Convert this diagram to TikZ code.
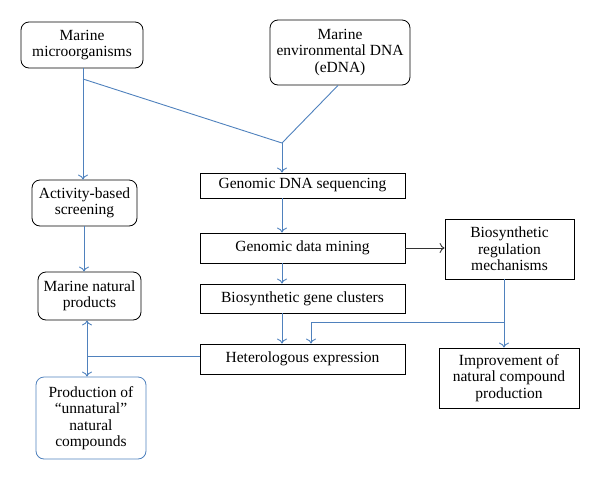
\documentclass[tikz,border=0pt]{standalone}
\usepackage{fontspec}
\setmainfont{Liberation Serif}
\usetikzlibrary{arrows.meta}
\definecolor{lblue}{HTML}{4F81BD}
\begin{document}
\begin{tikzpicture}[x=1pt,y=-1pt,
  font=\fontsize{15.5}{16.5}\selectfont,
  box/.style={draw=black,line width=0.8pt,align=center,inner sep=0pt,anchor=center},
  rbox/.style={box,rounded corners=8pt},
  conn/.style={draw=lblue,line width=0.9pt},
  arr/.style={conn,-{To[length=5pt,width=10pt,open]}},
  barr/.style={draw=black!80,line width=0.9pt,-{To[length=5pt,width=10pt,open]}}]
\useasboundingbox (0,0) rectangle (600,480);
\node[rbox,minimum width=122pt,minimum height=46pt] (mm) at (82,45) {Marine\\microorganisms};
\node[rbox,minimum width=140pt,minimum height=65pt] (edna) at (340,52.5) {Marine\\environmental DNA\\(eDNA)};
\node[rbox,minimum width=105pt,minimum height=46pt] (abs) at (84.5,203) {Activity-based\\screening};
\node[box,minimum width=205pt,minimum height=25pt] (gds) at (302.5,185.5) {Genomic DNA sequencing};
\node[box,minimum width=205pt,minimum height=30pt] (gdm) at (302.5,248) {Genomic data mining};
\node[box,minimum width=205pt,minimum height=29pt] (bgc) at (302.5,298.5) {Biosynthetic gene clusters};
\node[box,minimum width=205pt,minimum height=30pt] (he) at (302.5,359) {Heterologous expression};
\node[box,minimum width=129pt,minimum height=60pt] (brm) at (509.5,249) {Biosynthetic\\regulation\\mechanisms};
\node[rbox,minimum width=103pt,minimum height=48pt] (mnp) at (89.5,296) {Marine natural\\products};
\node[rbox,draw=lblue,minimum width=110pt,minimum height=82pt] (punc) at (91,418) {Production of\\``unnatural''\\natural\\compounds};
\node[box,minimum width=140pt,minimum height=60pt] (incp) at (509,378) {Improvement of\\natural compound\\production};
\coordinate (j1) at (83,79);
\coordinate (j2) at (282,143);
\coordinate (j3) at (504,322);
\coordinate (j4) at (87,356);
\coordinate (j5) at (311,322);
\coordinate (xe) at (338,0);
\coordinate (xa) at (84,0);
\draw[arr] (mm.south -| j1) -- (abs.north -| j1);
\draw[conn] (j1) -- (j2);
\draw[conn] (edna.south -| xe) -- (j2);
\draw[arr] (j2) -- (gds.north -| j2);
\draw[arr] (gds.south -| j2) -- (gdm.north -| j2);
\draw[arr] (gdm.south -| j2) -- (bgc.north -| j2);
\draw[arr] (bgc.south -| j2) -- (he.north -| j2);
\draw[barr] (gdm.east) -- (brm.west |- gdm.east);
\draw[arr] (brm.south -| j3) -- (incp.north -| j3);
\draw[conn] (j3) -- (j5);
\draw[arr] (j5) -- (he.north -| j5);
\draw[arr] (abs.south -| xa) -- (mnp.north -| xa);
\draw[conn] (he.west |- j4) -- (j4);
\draw[arr] (j4) -- (mnp.south -| j4);
\draw[arr] (j4) -- (punc.north -| j4);
\end{tikzpicture}
\end{document}
